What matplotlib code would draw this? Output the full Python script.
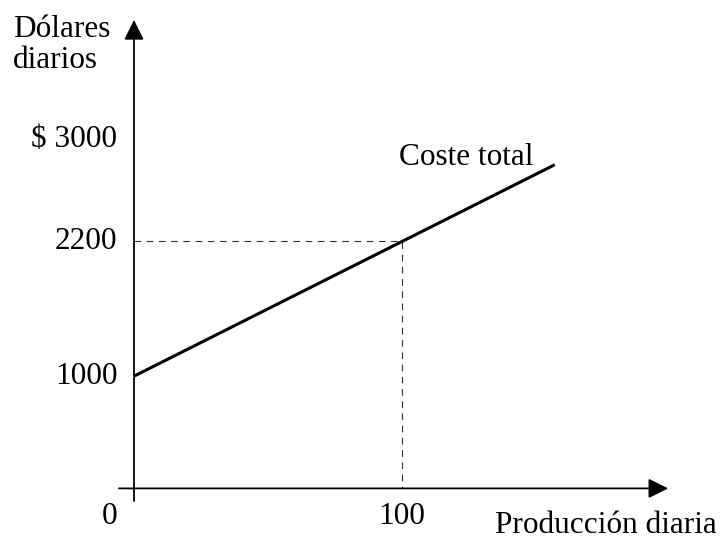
import matplotlib.pyplot as plt

# coste total: 1000 fijos + 12 por unidad
produccion = [0, 100, 157]
coste = [1000, 2200, 2884]

ytick_vals = [1000, 2200, 3000]
ytick_labels = ['1000', '2200', '$ 3000']
ytick_dy = [0, 0, 9]          # el rótulo de 3000 va un poco más arriba
xtick_vals = [0, 100]
xtick_labels = ['0', '100']

punto_q = 100
punto_c = 2200

plt.rcParams['font.family'] = ['Liberation Serif', 'DejaVu Serif']
fs = 22.5

fig = plt.figure(figsize=(7.22, 5.41), dpi=100)
ax = fig.add_axes([0, 0, 1, 1])
ax.set_xlim(-50, 219.4)
ax.set_ylim(-468.7, 4351.8)
ax.axis('off')

# ejes con flecha
arrow = dict(arrowstyle='-|>,head_length=0.6,head_width=0.3', color='black',
             lw=1.3, mutation_scale=20, shrinkA=0, shrinkB=0)
ax.annotate('', xy=(0, 4173), xytext=(0, -112), arrowprops=arrow)
ax.annotate('', xy=(199.3, 0), xytext=(-5.6, 0), arrowprops=arrow)

# líneas discontinuas hasta el punto (100, 2200)
ax.plot([0, punto_q, punto_q], [punto_c, punto_c, 0], color='#333333',
        lw=0.8, linestyle=(0, (6, 5)))

# coste total
ax.plot(produccion, coste, color='black', lw=2.2, solid_capstyle='butt')
ax.text(149, 2880, 'Coste total', fontsize=fs, ha='right', va='baseline')

# rótulos
for v, lab, dy in zip(ytick_vals, ytick_labels, ytick_dy):
    ax.annotate(lab, xy=(0, v), xytext=(-12, dy), textcoords='offset points',
                fontsize=fs, ha='right', va='center')
ax.annotate(xtick_labels[0], xy=(0, 0), xytext=(-12, -10),
            textcoords='offset points', fontsize=fs, ha='right', va='top')
ax.annotate(xtick_labels[1], xy=(xtick_vals[1], 0), xytext=(0, -10),
            textcoords='offset points', fontsize=fs, ha='center', va='top')

ax.text(-45.1, 4218, 'Dólares\ndiarios', fontsize=fs, ha='left', va='top',
        linespacing=1.08)
ax.text(134.7, -397, 'Producción diaria', fontsize=fs, ha='left', va='baseline')

fig.savefig('out.png', dpi=100)
